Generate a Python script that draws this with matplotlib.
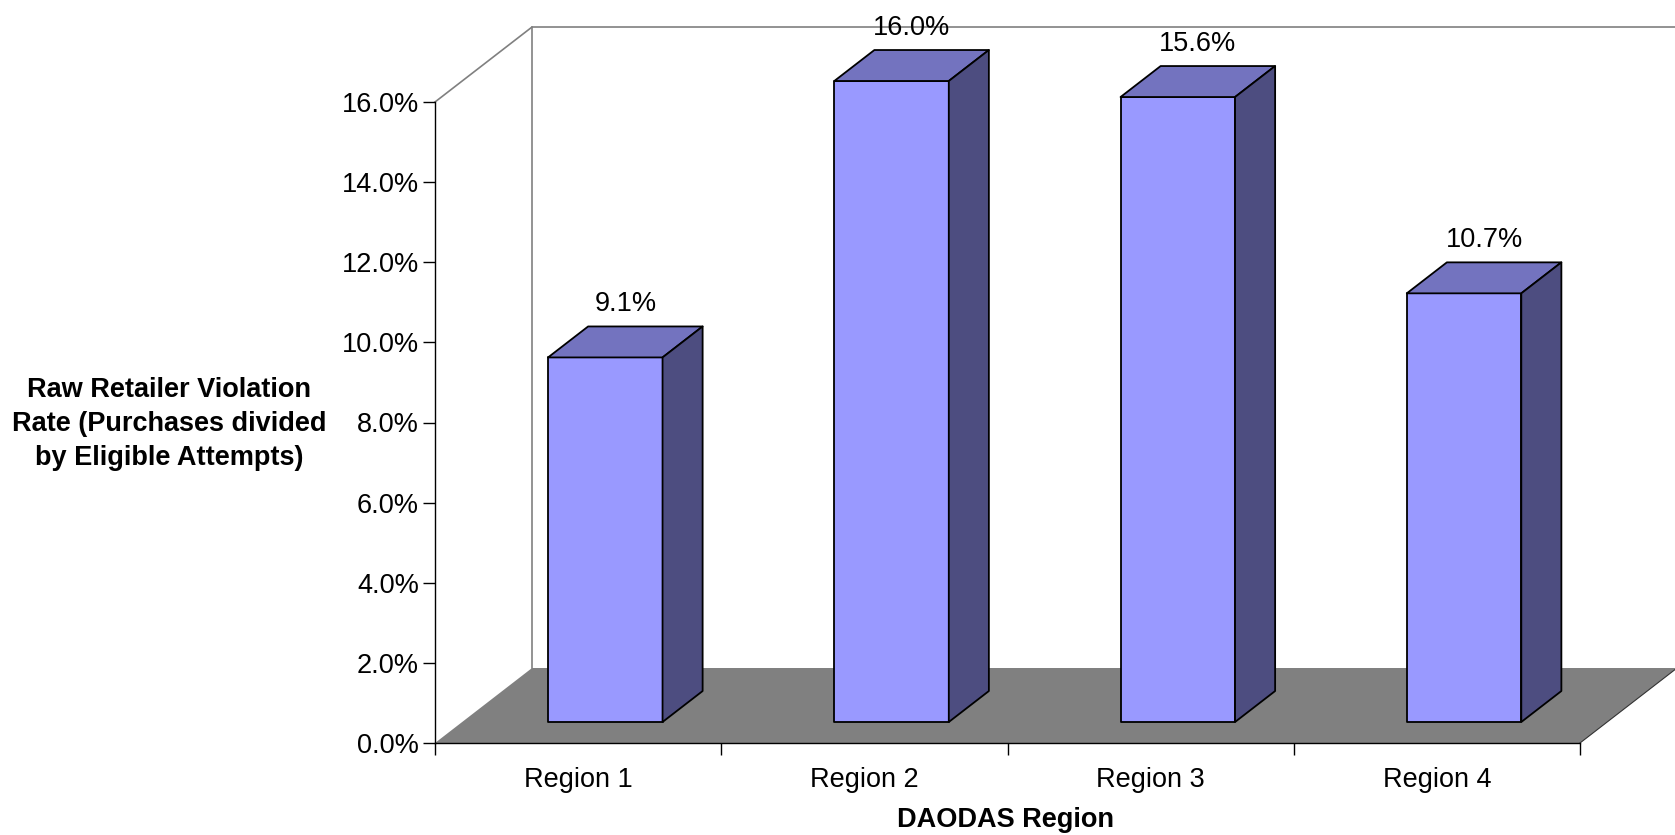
import numpy as np
import matplotlib.pyplot as plt
from matplotlib.patches import Polygon

plt.rcParams['font.family'] = ['Liberation Sans', 'DejaVu Sans']

# data
regions = ['Region 1', 'Region 2', 'Region 3', 'Region 4']
rates = [9.1, 16.0, 15.6, 10.7]
y_ticks = np.arange(0, 16.1, 2)
y_max = 16

# look of the fake 3d box
front_color = '#9999FF'
top_color = '#7373BF'
side_color = '#4D4D80'
floor_color = '#808080'
wall_edge = '#808080'
depth_x = 0.339   # shift in category units for full depth
depth_y = 1.872   # shift in value units for full depth
bar_z0, bar_z1 = 0.28, 0.693
bar_w = 0.40
fs = 19.5


def proj(x, y, z):
    return (x + z * depth_x, y + z * depth_y)


fig = plt.figure(figsize=(16.75, 8.35), dpi=100)
ax = fig.add_axes([435 / 1675, (835 - 743) / 835, (1580 - 435) / 1675, (743 - 102) / 835])
n = len(regions)
ax.set_xlim(0, n)
ax.set_ylim(0, y_max)
ax.patch.set_alpha(0)

# walls
left_wall = [proj(0, 0, 0), proj(0, y_max, 0), proj(0, y_max, 1), proj(0, 0, 1)]
ax.add_patch(Polygon(left_wall, closed=True, facecolor='white', edgecolor='none', clip_on=False, zorder=0))
xs, ys = zip(proj(0, y_max, 0), proj(0, y_max, 1), proj(n, y_max, 1))
ax.plot(xs, ys, color=wall_edge, lw=1.2, clip_on=False, zorder=1)
xs, ys = zip(proj(0, 0, 1), proj(0, y_max, 1))
ax.plot(xs, ys, color=wall_edge, lw=1.2, clip_on=False, zorder=1)

# floor
floor = [proj(0, 0, 0), proj(n, 0, 0), proj(n, 0, 1), proj(0, 0, 1)]
ax.add_patch(Polygon(floor, closed=True, facecolor=floor_color, edgecolor='none', clip_on=False, zorder=2))
xs, ys = zip(proj(n, 0, 0), proj(n, 0, 1))
ax.plot(xs, ys, color='#333333', lw=0.8, clip_on=False, zorder=2)

# bars
for i, v in enumerate(rates):
    x0 = i + 0.5 - bar_w / 2
    x1 = i + 0.5 + bar_w / 2
    front = [proj(x0, 0, bar_z0), proj(x1, 0, bar_z0), proj(x1, v, bar_z0), proj(x0, v, bar_z0)]
    top = [proj(x0, v, bar_z0), proj(x1, v, bar_z0), proj(x1, v, bar_z1), proj(x0, v, bar_z1)]
    side = [proj(x1, 0, bar_z0), proj(x1, 0, bar_z1), proj(x1, v, bar_z1), proj(x1, v, bar_z0)]
    for pts, c in [(front, front_color), (top, top_color), (side, side_color)]:
        ax.add_patch(Polygon(pts, closed=True, facecolor=c, edgecolor='black',
                             lw=1.3, joinstyle='round', clip_on=False, zorder=3))
    zm = (bar_z0 + bar_z1) / 2
    ax.annotate(f'{v:.1f}%', xy=proj(i + 0.5, v, zm), xytext=(0, 27), textcoords='offset points',
                ha='center', va='center', fontsize=fs, annotation_clip=False, zorder=4)

# axes
for s in ['top', 'right']:
    ax.spines[s].set_visible(False)
ax.spines['left'].set_linewidth(1)
ax.spines['bottom'].set_linewidth(1)
ax.spines['left'].set_zorder(5)
ax.spines['bottom'].set_zorder(5)
ax.set_yticks(y_ticks)
ax.set_yticklabels([f'{t:.1f}%' for t in y_ticks])
ax.set_xticks(np.arange(0, n + 1))
ax.set_xticklabels([])
ax.set_xticks(np.arange(n) + 0.5, minor=True)
ax.set_xticklabels(regions, minor=True)
ax.tick_params(axis='y', length=8.5, width=1, pad=3, labelsize=fs)
ax.tick_params(axis='x', which='major', length=8.5, width=1)
ax.tick_params(axis='x', which='minor', length=0, pad=17, labelsize=fs)

fig.text(1006 / 1675, 1 - 820 / 835, 'DAODAS Region', ha='center', va='center',
         fontsize=fs, fontweight='bold')
fig.text(169 / 1675, 1 - 424 / 835, 'Raw Retailer Violation\nRate (Purchases divided\nby Eligible Attempts)',
         ha='center', va='center', multialignment='center', fontsize=fs, fontweight='bold',
         linespacing=1.38)

fig.savefig('out.png', dpi=100)
